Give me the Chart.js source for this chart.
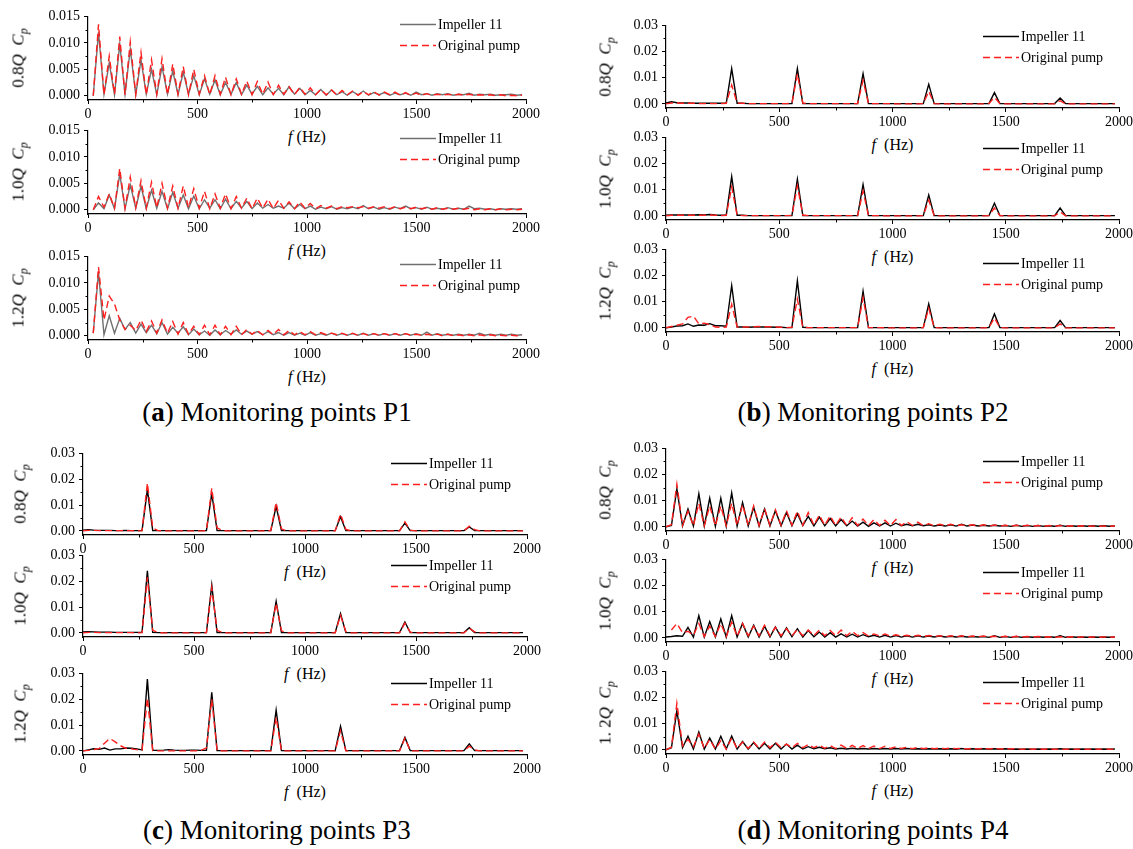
<!DOCTYPE html>
<html>
<head>
<meta charset="utf-8">
<script src="https://cdn.jsdelivr.net/npm/chart.js@4.4.0/dist/chart.umd.min.js"></script>
<style>
  body { margin: 0; background: #fff; }
  #fig { position: relative; width: 1133px; height: 849px; overflow: hidden; font-family: "Liberation Serif", "Times New Roman", serif; color: #000; }
  #fig canvas { position: absolute; }
  .lbl { position: absolute; white-space: nowrap; line-height: 1; transform: translate(-50%, -50%); }
  .ytitle { font-size: 17px; transform: translate(-50%, -50%) rotate(-90deg); }
  .xtitle { font-size: 16px; }
  .caption { font-size: 27px; }
  sub { font-size: 70%; vertical-align: -0.3em; line-height: 0; }
</style>
</head>
<body>
<div id="fig"></div>
<script>
// frequency grid (Hz)
const freqHz = [
  0, 24, 48, 73, 97, 121, 145, 169, 193, 218,
  242, 266, 290, 314, 338, 363, 387, 411, 435, 459,
  483, 508, 532, 556, 580, 604, 628, 653, 677, 701,
  725, 749, 773, 798, 822, 846, 870, 894, 918, 943,
  967, 991, 1015, 1039, 1063, 1088, 1112, 1136, 1160, 1184,
  1208, 1233, 1257, 1281, 1305, 1329, 1353, 1378, 1402, 1426,
  1450, 1474, 1498, 1523, 1547, 1571, 1595, 1619, 1643, 1668,
  1692, 1716, 1740, 1764, 1788, 1813, 1837, 1861, 1885, 1909,
  1933, 1958, 1982,
];

const freqTicks = [0, 500, 1000, 1500, 2000];
const cpTicksSmall = [0, 0.005, 0.01, 0.015];
const cpTicksLarge = [0, 0.01, 0.02, 0.03];
const seriesNames = ["Impeller 11", "Original pump"];

// ---- P1 ----
const p1Q08Impeller = [
  null, 0.0000, 0.0120, 0.0003, 0.0062, 0.0002, 0.0098, 0.0003, 0.0088, 0.0002,
  0.0068, 0.0003, 0.0050, 0.0002, 0.0055, 0.0003, 0.0047, 0.0002, 0.0045, 0.0003,
  0.0038, 0.0002, 0.0032, 0.0003, 0.0030, 0.0002, 0.0025, 0.0003, 0.0025, 0.0002,
  0.0020, 0.0003, 0.0018, 0.0002, 0.0015, 0.0003, 0.0014, 0.0002, 0.0017, 0.0003,
  0.0014, 0.0002, 0.0010, 0.0002, 0.0012, 0.0001, 0.0011, 0.0002, 0.0008, 0.0001,
  0.0008, 0.0002, 0.0009, 0.0001, 0.0006, 0.0002, 0.0006, 0.0001, 0.0005, 0.0002,
  0.0005, 0.0001, 0.0007, 0.0002, 0.0004, 0.0001, 0.0004, 0.0002, 0.0004, 0.0001,
  0.0003, 0.0002, 0.0005, 0.0001, 0.0003, 0.0002, 0.0003, 0.0001, 0.0002, 0.0002,
  0.0003, 0.0001, 0.0002,
];
const p1Q08Original = [
  null, 0.0000, 0.0135, 0.0002, 0.0075, 0.0003, 0.0112, 0.0002, 0.0102, 0.0003,
  0.0082, 0.0002, 0.0068, 0.0003, 0.0070, 0.0002, 0.0060, 0.0003, 0.0055, 0.0002,
  0.0050, 0.0003, 0.0038, 0.0002, 0.0038, 0.0003, 0.0035, 0.0002, 0.0032, 0.0003,
  0.0028, 0.0002, 0.0027, 0.0003, 0.0026, 0.0002, 0.0020, 0.0003, 0.0017, 0.0002,
  0.0016, 0.0003, 0.0015, 0.0002, 0.0012, 0.0002, 0.0011, 0.0001, 0.0010, 0.0002,
  0.0009, 0.0001, 0.0008, 0.0002, 0.0008, 0.0001, 0.0007, 0.0002, 0.0007, 0.0001,
  0.0006, 0.0001, 0.0005, 0.0001, 0.0004, 0.0001, 0.0003, 0.0001, 0.0003, 0.0001,
  0.0003, 0.0001, 0.0003, 0.0001, 0.0002, 0.0001, 0.0002, 0.0000, 0.0002, 0.0000,
  0.0001, 0.0000, 0.0001,
];
const p1Q10Impeller = [
  null, 0.0000, 0.0013, 0.0002, 0.0028, 0.0002, 0.0068, 0.0002, 0.0047, 0.0003,
  0.0045, 0.0002, 0.0037, 0.0003, 0.0035, 0.0002, 0.0033, 0.0003, 0.0028, 0.0002,
  0.0026, 0.0002, 0.0019, 0.0003, 0.0019, 0.0002, 0.0020, 0.0002, 0.0016, 0.0003,
  0.0016, 0.0002, 0.0013, 0.0003, 0.0010, 0.0003, 0.0007, 0.0003, 0.0013, 0.0002,
  0.0010, 0.0002, 0.0007, 0.0001, 0.0005, 0.0002, 0.0006, 0.0001, 0.0004, 0.0002,
  0.0005, 0.0002, 0.0008, 0.0002, 0.0005, 0.0001, 0.0004, 0.0001, 0.0005, 0.0002,
  0.0007, 0.0002, 0.0004, 0.0001, 0.0005, 0.0001, 0.0003, 0.0001, 0.0004, 0.0001,
  0.0003, 0.0001, 0.0007, 0.0002, 0.0003, 0.0001, 0.0002, 0.0000, 0.0002, 0.0001,
  0.0002, 0.0001, 0.0002,
];
const p1Q10Original = [
  null, 0.0000, 0.0025, 0.0005, 0.0030, 0.0003, 0.0078, 0.0003, 0.0062, 0.0004,
  0.0055, 0.0003, 0.0052, 0.0004, 0.0050, 0.0003, 0.0045, 0.0003, 0.0045, 0.0004,
  0.0040, 0.0003, 0.0035, 0.0002, 0.0030, 0.0003, 0.0030, 0.0002, 0.0025, 0.0003,
  0.0022, 0.0002, 0.0022, 0.0003, 0.0020, 0.0002, 0.0018, 0.0003, 0.0015, 0.0002,
  0.0015, 0.0003, 0.0012, 0.0002, 0.0008, 0.0003, 0.0007, 0.0002, 0.0006, 0.0004,
  0.0006, 0.0004, 0.0006, 0.0003, 0.0006, 0.0003, 0.0006, 0.0002, 0.0006, 0.0002,
  0.0005, 0.0002, 0.0005, 0.0002, 0.0004, 0.0001, 0.0004, 0.0001, 0.0003, 0.0001,
  0.0003, 0.0001, 0.0003, 0.0000, 0.0002, 0.0000, 0.0002, 0.0000, 0.0002, 0.0000,
  0.0001, 0.0000, 0.0001,
];
const p1Q12Impeller = [
  null, 0.0005, 0.0120, 0.0002, 0.0038, 0.0005, 0.0033, 0.0012, 0.0025, 0.0005,
  0.0022, 0.0006, 0.0020, 0.0004, 0.0025, 0.0003, 0.0016, 0.0005, 0.0017, 0.0002,
  0.0013, 0.0002, 0.0009, 0.0001, 0.0011, 0.0002, 0.0010, 0.0003, 0.0011, 0.0003,
  0.0009, 0.0003, 0.0008, 0.0002, 0.0008, 0.0002, 0.0006, 0.0001, 0.0006, 0.0001,
  0.0005, 0.0001, 0.0006, 0.0001, 0.0004, 0.0001, 0.0005, 0.0001, 0.0004, 0.0001,
  0.0004, 0.0001, 0.0005, 0.0001, 0.0004, 0.0001, 0.0004, 0.0001, 0.0004, 0.0001,
  0.0004, 0.0001, 0.0004, 0.0001, 0.0007, 0.0001, 0.0004, 0.0001, 0.0003, 0.0001,
  0.0003, 0.0001, 0.0003, 0.0001, 0.0005, 0.0001, 0.0003, 0.0001, 0.0003, 0.0001,
  0.0003, 0.0001, 0.0002,
];
const p1Q12Original = [
  null, 0.0005, 0.0130, 0.0030, 0.0075, 0.0060, 0.0030, 0.0012, 0.0020, 0.0010,
  0.0030, 0.0008, 0.0028, 0.0005, 0.0030, 0.0005, 0.0027, 0.0003, 0.0025, 0.0003,
  0.0018, 0.0002, 0.0020, 0.0002, 0.0020, 0.0002, 0.0018, 0.0002, 0.0018, 0.0002,
  0.0012, 0.0003, 0.0010, 0.0002, 0.0010, 0.0002, 0.0012, 0.0002, 0.0010, 0.0002,
  0.0008, 0.0002, 0.0008, 0.0002, 0.0006, 0.0002, 0.0005, 0.0002, 0.0005, 0.0001,
  0.0005, 0.0001, 0.0004, 0.0001, 0.0004, 0.0001, 0.0004, 0.0001, 0.0004, 0.0001,
  0.0004, 0.0001, 0.0003, 0.0001, 0.0003, 0.0001, 0.0003, 0.0000, 0.0003, 0.0000,
  0.0002, 0.0000, 0.0002, 0.0000, 0.0002, 0.0000, 0.0002, 0.0000, 0.0001, 0.0000,
  0.0001, 0.0000, 0.0001,
];

// ---- P2 ----
const p2Q08Impeller = [
  0.0003, 0.0008, 0.0004, 0.0003, 0.0003, 0.0002, 0.0002, 0.0002, 0.0002, 0.0002,
  0.0002, 0.0002, 0.0135, 0.0002, 0.0002, 0.0001, 0.0001, 0.0001, 0.0001, 0.0001,
  0.0001, 0.0001, 0.0001, 0.0001, 0.0135, 0.0001, 0.0001, 0.0001, 0.0001, 0.0001,
  0.0001, 0.0001, 0.0001, 0.0001, 0.0001, 0.0001, 0.0115, 0.0001, 0.0001, 0.0001,
  0.0001, 0.0001, 0.0001, 0.0001, 0.0001, 0.0001, 0.0001, 0.0001, 0.0075, 0.0001,
  0.0001, 0.0001, 0.0001, 0.0001, 0.0001, 0.0001, 0.0001, 0.0001, 0.0001, 0.0001,
  0.0043, 0.0001, 0.0001, 0.0001, 0.0001, 0.0001, 0.0001, 0.0001, 0.0001, 0.0001,
  0.0001, 0.0001, 0.0022, 0.0001, 0.0001, 0.0001, 0.0001, 0.0001, 0.0001, 0.0001,
  0.0001, 0.0001, 0.0001,
];
const p2Q08Original = [
  0, 0.0003, 0.0003, 0.0002, 0.0002, 0.0002, 0.0001, 0.0001, 0.0001, 0.0001,
  0.0001, 0.0002, 0.0072, 0.0003, 0.0002, 0.0001, 0.0001, 0.0001, 0.0001, 0.0001,
  0.0001, 0.0001, 0.0001, 0.0002, 0.0115, 0.0003, 0.0001, 0.0001, 0.0001, 0.0001,
  0.0001, 0.0001, 0.0001, 0.0001, 0.0001, 0.0001, 0.0090, 0.0001, 0.0001, 0.0001,
  0.0001, 0.0001, 0, 0, 0, 0, 0, 0.0001, 0.0048, 0.0001,
  0, 0, 0, 0, 0, 0, 0, 0, 0, 0.0001,
  0.0025, 0.0001, 0, 0, 0, 0, 0, 0, 0, 0,
  0, 0, 0.0012, 0, 0, 0, 0, 0, 0, 0,
  0, 0, 0,
];
const p2Q10Impeller = [
  0.0002, 0.0003, 0.0003, 0.0003, 0.0003, 0.0003, 0.0004, 0.0003, 0.0005, 0.0003,
  0.0002, 0.0002, 0.0150, 0.0002, 0.0002, 0.0001, 0.0001, 0.0001, 0.0001, 0.0001,
  0.0001, 0.0001, 0.0001, 0.0001, 0.0140, 0.0001, 0.0001, 0.0001, 0.0001, 0.0001,
  0.0001, 0.0001, 0.0001, 0.0001, 0.0001, 0.0001, 0.0120, 0.0001, 0.0001, 0.0001,
  0.0001, 0.0001, 0.0001, 0.0001, 0.0001, 0.0001, 0.0001, 0.0001, 0.0080, 0.0001,
  0.0001, 0.0001, 0.0001, 0.0001, 0.0001, 0.0001, 0.0001, 0.0001, 0.0001, 0.0001,
  0.0048, 0.0001, 0.0001, 0.0001, 0.0001, 0.0001, 0.0001, 0.0001, 0.0001, 0.0001,
  0.0001, 0.0001, 0.0030, 0.0001, 0.0001, 0.0001, 0.0001, 0.0001, 0.0001, 0.0001,
  0.0001, 0.0001, 0.0001,
];
const p2Q10Original = [
  0, 0.0002, 0.0002, 0.0002, 0.0002, 0.0002, 0.0002, 0.0002, 0.0003, 0.0002,
  0.0001, 0.0002, 0.0110, 0.0003, 0.0001, 0.0001, 0.0001, 0.0001, 0.0001, 0.0001,
  0.0001, 0.0001, 0.0001, 0.0002, 0.0115, 0.0003, 0.0001, 0.0001, 0.0001, 0.0001,
  0.0001, 0.0001, 0.0001, 0.0001, 0.0001, 0.0001, 0.0095, 0.0001, 0.0001, 0.0001,
  0, 0, 0, 0, 0, 0, 0, 0.0001, 0.0060, 0.0001,
  0, 0, 0, 0, 0, 0, 0, 0, 0, 0.0001,
  0.0030, 0.0001, 0, 0, 0, 0, 0, 0, 0, 0,
  0, 0, 0.0015, 0, 0, 0, 0, 0, 0, 0,
  0, 0, 0,
];
const p2Q12Impeller = [
  0, 0.0003, 0.0007, 0.0008, 0.0015, 0.0006, 0.0011, 0.0010, 0.0016, 0.0008,
  0.0008, 0.0006, 0.0162, 0.0003, 0.0003, 0.0002, 0.0003, 0.0003, 0.0003, 0.0003,
  0.0002, 0.0002, 0.0001, 0.0001, 0.0180, 0.0002, 0.0001, 0.0001, 0.0001, 0.0001,
  0.0001, 0.0001, 0.0001, 0.0001, 0.0001, 0.0001, 0.0140, 0.0001, 0.0001, 0.0001,
  0.0001, 0.0001, 0.0001, 0.0001, 0.0001, 0.0001, 0.0001, 0.0001, 0.0092, 0.0001,
  0.0001, 0.0001, 0.0001, 0.0001, 0.0001, 0.0001, 0.0001, 0.0001, 0.0001, 0.0001,
  0.0053, 0.0001, 0.0001, 0.0001, 0.0001, 0.0001, 0.0001, 0.0001, 0.0001, 0.0001,
  0.0001, 0.0001, 0.0028, 0.0001, 0.0001, 0.0001, 0.0001, 0.0001, 0.0001, 0.0001,
  0.0001, 0.0001, 0.0001,
];
const p2Q12Original = [
  0, 0.0005, 0.0010, 0.0015, 0.0040, 0.0045, 0.0015, 0.0018, 0.0012, 0.0003,
  0.0002, 0.0003, 0.0090, 0.0003, 0.0003, 0.0003, 0.0004, 0.0005, 0.0004, 0.0004,
  0.0003, 0.0002, 0.0001, 0.0002, 0.0110, 0.0002, 0.0001, 0.0001, 0.0001, 0.0001,
  0.0001, 0.0001, 0.0001, 0.0001, 0.0001, 0.0001, 0.0115, 0.0001, 0.0001, 0.0001,
  0, 0, 0, 0, 0, 0, 0, 0.0001, 0.0075, 0.0001,
  0, 0, 0, 0, 0, 0, 0, 0, 0, 0.0001,
  0.0038, 0.0001, 0, 0, 0, 0, 0, 0, 0, 0,
  0, 0, 0.0015, 0, 0, 0, 0, 0, 0, 0,
  0, 0, 0,
];

// ---- P3 ----
const p3Q08Impeller = [
  0.0003, 0.0005, 0.0003, 0.0002, 0.0002, 0.0002, 0.0001, 0.0001, 0.0002, 0.0001,
  0.0001, 0.0001, 0.0160, 0.0001, 0.0001, 0.0001, 0.0001, 0.0001, 0.0001, 0.0001,
  0.0001, 0.0001, 0.0001, 0.0001, 0.0145, 0.0001, 0.0001, 0.0001, 0.0001, 0.0001,
  0.0001, 0.0001, 0.0001, 0.0001, 0.0001, 0.0001, 0.0095, 0.0001, 0.0001, 0.0001,
  0.0001, 0.0001, 0.0001, 0.0001, 0.0001, 0.0001, 0.0001, 0.0001, 0.0055, 0.0001,
  0.0001, 0.0001, 0.0001, 0.0001, 0.0001, 0.0001, 0.0001, 0.0001, 0.0001, 0.0001,
  0.0030, 0.0001, 0.0001, 0.0001, 0.0001, 0.0001, 0.0001, 0.0001, 0.0001, 0.0001,
  0.0001, 0.0001, 0.0015, 0.0001, 0.0001, 0.0001, 0.0001, 0.0001, 0.0001, 0.0001,
  0.0001, 0.0001, 0.0001,
];
const p3Q08Original = [
  0, 0.0002, 0.0002, 0.0001, 0.0001, 0.0001, 0.0001, 0.0001, 0.0001, 0.0001,
  0, 0.0001, 0.0185, 0.0012, 0.0001, 0, 0, 0, 0, 0,
  0, 0, 0, 0.0001, 0.0165, 0.0012, 0.0001, 0, 0, 0,
  0, 0, 0, 0, 0, 0.0001, 0.0110, 0.0008, 0, 0,
  0, 0, 0, 0, 0, 0, 0, 0, 0.0065, 0.0006,
  0, 0, 0, 0, 0, 0, 0, 0, 0, 0,
  0.0035, 0.0003, 0, 0, 0, 0, 0, 0, 0, 0,
  0, 0, 0.0018, 0.0005, 0, 0, 0, 0, 0, 0,
  0, 0, 0,
];
const p3Q10Impeller = [
  0.0004, 0.0005, 0.0004, 0.0003, 0.0003, 0.0003, 0.0002, 0.0002, 0.0002, 0.0002,
  0.0002, 0.0002, 0.0240, 0.0002, 0.0001, 0.0001, 0.0001, 0.0001, 0.0001, 0.0001,
  0.0001, 0.0001, 0.0001, 0.0001, 0.0185, 0.0001, 0.0001, 0.0001, 0.0001, 0.0001,
  0.0001, 0.0001, 0.0001, 0.0001, 0.0001, 0.0001, 0.0122, 0.0001, 0.0001, 0.0001,
  0.0001, 0.0001, 0.0001, 0.0001, 0.0001, 0.0001, 0.0001, 0.0001, 0.0075, 0.0001,
  0.0001, 0.0001, 0.0001, 0.0001, 0.0001, 0.0001, 0.0001, 0.0001, 0.0001, 0.0001,
  0.0042, 0.0001, 0.0001, 0.0001, 0.0001, 0.0001, 0.0001, 0.0001, 0.0001, 0.0001,
  0.0001, 0.0001, 0.0020, 0.0001, 0.0001, 0.0001, 0.0001, 0.0001, 0.0001, 0.0001,
  0.0001, 0.0001, 0.0001,
];
const p3Q10Original = [
  0, 0.0002, 0.0002, 0.0001, 0.0001, 0.0001, 0.0001, 0.0001, 0.0001, 0.0001,
  0, 0.0001, 0.0215, 0.0010, 0.0001, 0, 0, 0, 0, 0,
  0, 0, 0, 0.0001, 0.0175, 0.0010, 0.0001, 0, 0, 0,
  0, 0, 0, 0, 0, 0.0001, 0.0115, 0.0008, 0, 0,
  0, 0, 0, 0, 0, 0, 0, 0, 0.0068, 0.0005,
  0, 0, 0, 0, 0, 0, 0, 0, 0, 0,
  0.0038, 0.0003, 0, 0, 0, 0, 0, 0, 0, 0,
  0, 0, 0.0018, 0.0004, 0, 0, 0, 0, 0, 0,
  0, 0, 0,
];
const p3Q12Impeller = [
  0, 0.0004, 0.0008, 0.0006, 0.0011, 0.0003, 0.0008, 0.0008, 0.0011, 0.0010,
  0.0008, 0.0004, 0.0278, 0.0002, 0.0002, 0.0003, 0.0005, 0.0003, 0.0002, 0.0002,
  0.0003, 0.0003, 0.0002, 0.0002, 0.0227, 0.0001, 0.0001, 0.0001, 0.0001, 0.0001,
  0.0001, 0.0001, 0.0001, 0.0001, 0.0001, 0.0001, 0.0158, 0.0001, 0.0001, 0.0001,
  0.0001, 0.0001, 0.0001, 0.0001, 0.0001, 0.0001, 0.0001, 0.0001, 0.0095, 0.0001,
  0.0001, 0.0001, 0.0001, 0.0001, 0.0001, 0.0001, 0.0001, 0.0001, 0.0001, 0.0001,
  0.0052, 0.0001, 0.0001, 0.0001, 0.0001, 0.0001, 0.0001, 0.0001, 0.0001, 0.0001,
  0.0001, 0.0001, 0.0027, 0.0001, 0.0001, 0.0001, 0.0001, 0.0001, 0.0001, 0.0001,
  0.0001, 0.0001, 0.0001,
];
const p3Q12Original = [
  0, 0.0002, 0.0005, 0.0009, 0.0030, 0.0048, 0.0035, 0.0020, 0.0010, 0.0008,
  0.0005, 0.0003, 0.0205, 0.0001, 0, 0, 0, 0, 0, 0,
  0, 0, 0.0002, 0.0012, 0.0200, 0.0001, 0, 0, 0, 0,
  0, 0, 0, 0, 0, 0, 0.0130, 0, 0, 0,
  0, 0, 0, 0, 0, 0, 0, 0, 0.0078, 0,
  0, 0, 0, 0, 0, 0, 0, 0, 0, 0,
  0.0050, 0, 0, 0, 0, 0, 0, 0, 0, 0,
  0, 0, 0.0018, 0.0004, 0, 0, 0, 0, 0, 0,
  0, 0, 0,
];

// ---- P4 ----
const p4Q08Impeller = [
  0, 0.0005, 0.0145, 0.0003, 0.0068, 0.0003, 0.0127, 0.0003, 0.0110, 0.0002,
  0.0110, 0.0002, 0.0130, 0.0003, 0.0093, 0.0003, 0.0075, 0.0003, 0.0068, 0.0003,
  0.0062, 0.0004, 0.0055, 0.0004, 0.0050, 0.0005, 0.0040, 0.0004, 0.0037, 0.0004,
  0.0032, 0.0004, 0.0028, 0.0004, 0.0022, 0.0003, 0.0018, 0.0002, 0.0015, 0.0003,
  0.0015, 0.0003, 0.0014, 0.0004, 0.0010, 0.0004, 0.0010, 0.0004, 0.0008, 0.0003,
  0.0007, 0.0003, 0.0008, 0.0003, 0.0010, 0.0003, 0.0007, 0.0003, 0.0006, 0.0003,
  0.0006, 0.0003, 0.0005, 0.0002, 0.0006, 0.0002, 0.0005, 0.0002, 0.0005, 0.0002,
  0.0004, 0.0002, 0.0006, 0.0002, 0.0004, 0.0002, 0.0004, 0.0002, 0.0004, 0.0002,
  0.0004, 0.0002, 0.0003,
];
const p4Q08Original = [
  0, 0.0008, 0.0163, 0.0005, 0.0060, 0.0004, 0.0090, 0.0004, 0.0080, 0.0004,
  0.0080, 0.0004, 0.0090, 0.0005, 0.0085, 0.0005, 0.0080, 0.0005, 0.0070, 0.0006,
  0.0065, 0.0006, 0.0062, 0.0006, 0.0060, 0.0006, 0.0055, 0.0006, 0.0045, 0.0006,
  0.0042, 0.0005, 0.0038, 0.0005, 0.0035, 0.0005, 0.0030, 0.0005, 0.0028, 0.0005,
  0.0025, 0.0005, 0.0028, 0.0005, 0.0020, 0.0005, 0.0018, 0.0004, 0.0012, 0.0004,
  0.0010, 0.0004, 0.0010, 0.0004, 0.0008, 0.0004, 0.0008, 0.0003, 0.0008, 0.0003,
  0.0007, 0.0003, 0.0006, 0.0003, 0.0006, 0.0003, 0.0006, 0.0003, 0.0005, 0.0002,
  0.0005, 0.0002, 0.0005, 0.0002, 0.0004, 0.0002, 0.0004, 0.0002, 0.0003, 0.0002,
  0.0003, 0.0002, 0.0003,
];
const p4Q10Impeller = [
  0.0003, 0.0005, 0.0008, 0.0006, 0.0040, 0.0003, 0.0085, 0.0003, 0.0062, 0.0003,
  0.0072, 0.0003, 0.0085, 0.0003, 0.0055, 0.0003, 0.0048, 0.0003, 0.0045, 0.0003,
  0.0042, 0.0003, 0.0038, 0.0004, 0.0035, 0.0003, 0.0028, 0.0004, 0.0022, 0.0003,
  0.0020, 0.0003, 0.0015, 0.0003, 0.0014, 0.0003, 0.0012, 0.0004, 0.0010, 0.0003,
  0.0010, 0.0003, 0.0009, 0.0003, 0.0008, 0.0003, 0.0008, 0.0003, 0.0007, 0.0003,
  0.0007, 0.0003, 0.0006, 0.0003, 0.0006, 0.0003, 0.0005, 0.0003, 0.0005, 0.0002,
  0.0008, 0.0002, 0.0005, 0.0002, 0.0005, 0.0002, 0.0004, 0.0002, 0.0004, 0.0002,
  0.0004, 0.0002, 0.0008, 0.0002, 0.0004, 0.0002, 0.0003, 0.0002, 0.0003, 0.0002,
  0.0003, 0.0002, 0.0003,
];
const p4Q10Original = [
  null, 0.0030, 0.0055, 0.0020, 0.0025, 0.0010, 0.0055, 0.0005, 0.0045, 0.0005,
  0.0055, 0.0005, 0.0060, 0.0005, 0.0055, 0.0008, 0.0045, 0.0008, 0.0048, 0.0008,
  0.0040, 0.0008, 0.0035, 0.0008, 0.0032, 0.0008, 0.0030, 0.0008, 0.0030, 0.0008,
  0.0028, 0.0008, 0.0030, 0.0008, 0.0025, 0.0008, 0.0020, 0.0007, 0.0015, 0.0007,
  0.0015, 0.0006, 0.0012, 0.0006, 0.0010, 0.0005, 0.0010, 0.0005, 0.0009, 0.0005,
  0.0008, 0.0004, 0.0008, 0.0004, 0.0008, 0.0004, 0.0007, 0.0004, 0.0007, 0.0004,
  0.0006, 0.0003, 0.0006, 0.0003, 0.0006, 0.0003, 0.0005, 0.0003, 0.0005, 0.0003,
  0.0004, 0.0002, 0.0004, 0.0002, 0.0004, 0.0002, 0.0003, 0.0002, 0.0003, 0.0002,
  0.0003, 0.0002, 0.0003,
];
const p4Q12Impeller = [
  0, 0.0008, 0.0150, 0.0008, 0.0052, 0.0003, 0.0068, 0.0003, 0.0045, 0.0003,
  0.0052, 0.0003, 0.0053, 0.0003, 0.0032, 0.0003, 0.0028, 0.0003, 0.0025, 0.0003,
  0.0025, 0.0003, 0.0022, 0.0003, 0.0018, 0.0003, 0.0012, 0.0004, 0.0010, 0.0004,
  0.0008, 0.0003, 0.0006, 0.0003, 0.0006, 0.0003, 0.0005, 0.0003, 0.0005, 0.0003,
  0.0005, 0.0003, 0.0005, 0.0003, 0.0005, 0.0003, 0.0004, 0.0003, 0.0004, 0.0003,
  0.0004, 0.0002, 0.0004, 0.0002, 0.0005, 0.0002, 0.0004, 0.0002, 0.0004, 0.0002,
  0.0004, 0.0002, 0.0004, 0.0002, 0.0003, 0.0002, 0.0003, 0.0002, 0.0003, 0.0002,
  0.0003, 0.0002, 0.0004, 0.0002, 0.0003, 0.0002, 0.0003, 0.0002, 0.0003, 0.0002,
  0.0003, 0.0002, 0.0003,
];
const p4Q12Original = [
  0, 0.0010, 0.0178, 0.0015, 0.0040, 0.0012, 0.0060, 0.0005, 0.0040, 0.0003,
  0.0035, 0.0003, 0.0045, 0.0005, 0.0030, 0.0005, 0.0030, 0.0006, 0.0030, 0.0008,
  0.0028, 0.0008, 0.0022, 0.0008, 0.0025, 0.0008, 0.0020, 0.0008, 0.0018, 0.0006,
  0.0016, 0.0005, 0.0018, 0.0005, 0.0017, 0.0005, 0.0016, 0.0005, 0.0015, 0.0005,
  0.0014, 0.0005, 0.0012, 0.0005, 0.0010, 0.0004, 0.0010, 0.0004, 0.0008, 0.0004,
  0.0007, 0.0004, 0.0007, 0.0004, 0.0006, 0.0003, 0.0006, 0.0003, 0.0006, 0.0003,
  0.0006, 0.0003, 0.0005, 0.0003, 0.0005, 0.0002, 0.0004, 0.0002, 0.0004, 0.0002,
  0.0004, 0.0002, 0.0003, 0.0002, 0.0003, 0.0002, 0.0003, 0.0002, 0.0003, 0.0002,
  0.0003, 0.0002, 0.0003,
];

const GRAY = "#707070";
const BLACK = "#000000";
const RED = "#ff1f1f";
const SERIF = "'Liberation Serif', 'Times New Roman', serif";

const titleA = (q) => `${q}<i>Q</i>&nbsp; <i>C</i><sub><i>p</i></sub>`;

// box = [left, top, right, bottom] of the plot area on the page
const subplots = [
  { box: [88, 16, 526, 100], small: true, imp: p1Q08Impeller, orig: p1Q08Original, color: GRAY, title: titleA("0.8"), titleX: 18, legendX: 400, legendTop: 8, fx: "<i>f</i> (Hz)" },
  { box: [88, 130, 526, 214], small: true, imp: p1Q10Impeller, orig: p1Q10Original, color: GRAY, title: titleA("1.0"), titleX: 18, legendX: 400, legendTop: 8, fx: "<i>f</i> (Hz)" },
  { box: [88, 256, 526, 340], small: true, imp: p1Q12Impeller, orig: p1Q12Original, color: GRAY, title: titleA("1.2"), titleX: 18, legendX: 400, legendTop: 8, fx: "<i>f</i> (Hz)" },
  { box: [666, 25, 1119, 108], imp: p2Q08Impeller, orig: p2Q08Original, color: BLACK, title: titleA("0.8"), titleX: 605, legendX: 983, legendTop: 11 },
  { box: [666, 137, 1119, 220], imp: p2Q10Impeller, orig: p2Q10Original, color: BLACK, title: titleA("1.0"), titleX: 605, legendX: 983, legendTop: 11 },
  { box: [666, 249, 1119, 332], imp: p2Q12Impeller, orig: p2Q12Original, color: BLACK, title: titleA("1.2"), titleX: 605, legendX: 983, legendTop: 14 },
  { box: [83, 453, 527, 535], imp: p3Q08Impeller, orig: p3Q08Original, color: BLACK, title: titleA("0.8"), titleX: 20, legendX: 391, legendTop: 10 },
  { box: [83, 555, 527, 637], imp: p3Q10Impeller, orig: p3Q10Original, color: BLACK, title: titleA("1.0"), titleX: 20, legendX: 391, legendTop: 10 },
  { box: [83, 673, 527, 755], imp: p3Q12Impeller, orig: p3Q12Original, color: BLACK, title: titleA("1.2"), titleX: 20, legendX: 391, legendTop: 10 },
  { box: [666, 448, 1119, 531], imp: p4Q08Impeller, orig: p4Q08Original, color: BLACK, title: titleA("0.8"), titleX: 605, legendX: 983, legendTop: 13 },
  { box: [666, 559, 1119, 642], imp: p4Q10Impeller, orig: p4Q10Original, color: BLACK, title: titleA("1.0"), titleX: 605, legendX: 983, legendTop: 13 },
  { box: [666, 671, 1119, 754], imp: p4Q12Impeller, orig: p4Q12Original, color: BLACK, title: titleA("1. 2"), titleX: 605, legendX: 983, legendTop: 11 },
];

const captions = [
  { html: "(<b>a</b>) Monitoring points P1", x: 277, y: 412 },
  { html: "(<b>b</b>) Monitoring points P2", x: 873, y: 412 },
  { html: "(<b>c</b>) Monitoring points P3", x: 277, y: 830 },
  { html: "(<b>d</b>) Monitoring points P4", x: 873, y: 830 },
];

const fig = document.querySelector("#fig");
const PAD_L = 80, PAD_T = 12, PAD_R = 26, PAD_B = 26;

// legend drawn inside the plot, Origin style
const inlineLegend = {
  id: "inlineLegend",
  afterDraw(chart, args, opts) {
    const ctx = chart.ctx;
    ctx.save();
    ctx.font = `14px ${SERIF}`;
    ctx.textBaseline = "middle";
    chart.data.datasets.forEach((ds, i) => {
      const y = Math.round(chart.chartArea.top + opts.top + i * 21) + 0.5;
      ctx.strokeStyle = ds.borderColor;
      ctx.lineWidth = ds.borderWidth;
      ctx.setLineDash(ds.borderDash || []);
      ctx.beginPath();
      ctx.moveTo(opts.x, y);
      ctx.lineTo(opts.x + 36, y);
      ctx.stroke();
      ctx.setLineDash([]);
      ctx.fillStyle = "#000";
      ctx.fillText(ds.label, opts.x + 38, y + 1);
    });
    ctx.restore();
  },
};

// short minor ticks between the labelled ones
const minorTicks = {
  id: "minorTicks",
  afterDraw(chart) {
    const { ctx, chartArea, scales } = chart;
    ctx.save();
    ctx.strokeStyle = "#000";
    ctx.lineWidth = 1;
    ctx.beginPath();
    const xt = scales.x.ticks.map((t) => t.value);
    for (let i = 0; i < xt.length - 1; i++) {
      const px = Math.round(scales.x.getPixelForValue((xt[i] + xt[i + 1]) / 2)) + 0.5;
      ctx.moveTo(px, chartArea.bottom);
      ctx.lineTo(px, chartArea.bottom + 2.5);
    }
    const yt = scales.y.ticks.map((t) => t.value);
    for (let i = 0; i < yt.length - 1; i++) {
      const py = Math.round(scales.y.getPixelForValue((yt[i] + yt[i + 1]) / 2)) + 0.5;
      ctx.moveTo(chartArea.left, py);
      ctx.lineTo(chartArea.left - 2.5, py);
    }
    ctx.stroke();
    ctx.restore();
  },
};

function addLabel(html, x, y, cls) {
  const el = document.createElement("div");
  el.className = "lbl " + cls;
  el.innerHTML = html;
  el.style.left = x + "px";
  el.style.top = y + "px";
  fig.appendChild(el);
}

function toPoints(values) {
  return values.map((v, i) => ({ x: freqHz[i], y: v }));
}

function makeChart(p) {
  const [left, top, right, bottom] = p.box;
  const canvas = document.createElement("canvas");
  canvas.width = right - left + PAD_L + PAD_R;
  canvas.height = bottom - top + PAD_T + PAD_B;
  canvas.style.left = left - PAD_L + "px";
  canvas.style.top = top - PAD_T + "px";
  fig.appendChild(canvas);

  const yTicks = p.small ? cpTicksSmall : cpTicksLarge;
  const yMax = yTicks[yTicks.length - 1];
  const digits = p.small ? 3 : 2;
  const tickFont = { family: SERIF, size: 14 };
  const axisGrid = { drawOnChartArea: false, drawTicks: true, tickLength: 4, color: "#000" };
  const axisBorder = { display: true, color: "#000", width: 1.2 };

  new Chart(canvas, {
    type: "line",
    data: {
      datasets: [
        {
          label: seriesNames[0],
          data: toPoints(p.imp),
          borderColor: p.color,
          borderWidth: 1.4,
          order: 2,
        },
        {
          label: seriesNames[1],
          data: toPoints(p.orig),
          borderColor: RED,
          borderWidth: 1.4,
          borderDash: [7, 4],
          order: 1,
        },
      ],
    },
    options: {
      responsive: false,
      animation: false,
      events: [],
      layout: { padding: { top: PAD_T, right: PAD_R, left: 0, bottom: 0 } },
      elements: { point: { radius: 0 }, line: { tension: 0, fill: false } },
      plugins: {
        legend: { display: false },
        tooltip: { enabled: false },
        inlineLegend: { x: p.legendX - (left - PAD_L), top: p.legendTop },
      },
      scales: {
        x: {
          type: "linear",
          min: 0,
          max: 2000,
          afterFit: (s) => { s.height = PAD_B; },
          afterBuildTicks: (s) => { s.ticks = freqTicks.map((v) => ({ value: v })); },
          ticks: {
            autoSkip: false,
            maxRotation: 0,
            padding: 2,
            color: "#000",
            font: tickFont,
            callback: (v) => String(v),
          },
          grid: axisGrid,
          border: axisBorder,
        },
        y: {
          type: "linear",
          min: -yMax * 0.053,
          max: yMax,
          afterFit: (s) => { s.width = PAD_L; },
          afterBuildTicks: (s) => { s.ticks = yTicks.map((v) => ({ value: v })); },
          ticks: {
            autoSkip: false,
            padding: 4,
            color: "#000",
            font: tickFont,
            callback: (v) => Number(v).toFixed(digits),
          },
          grid: axisGrid,
          border: axisBorder,
        },
      },
    },
    plugins: [inlineLegend, minorTicks],
  });

  addLabel(p.title, p.titleX, (top + bottom) / 2, "ytitle");
  addLabel(p.fx || "<i>f</i>&nbsp; (Hz)", (left + right) / 2, bottom + 37, "xtitle");
}

subplots.forEach(makeChart);
captions.forEach((c) => addLabel(c.html, c.x, c.y, "caption"));
</script>
</body>
</html>
